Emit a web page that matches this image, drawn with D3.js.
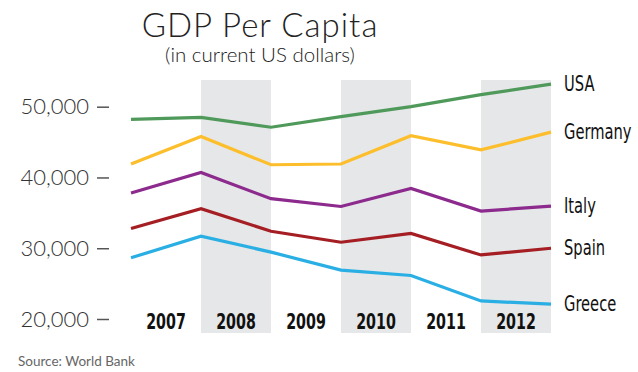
<!DOCTYPE html>
<html lang="en">
<head>
<meta charset="utf-8">
<title>GDP Per Capita</title>
<script src="https://d3js.org/d3.v7.min.js"></script>
<style>
  body { margin: 0; background: #fff; }
  svg { display: block; }
</style>
</head>
<body>
<div id="chart"></div>
<script>
// years shown as column labels, shaded columns
const years = ["2007", "2008", "2009", "2010", "2011", "2012"];
const shadedYears = ["2008", "2010", "2012"];
const yTicks = [20000, 30000, 40000, 50000];

// values read at the column edges (7 points per country)
const countries = ["USA", "Germany", "Italy", "Spain", "Greece"];
const usa     = [48200, 48500, 47100, 48600, 50000, 51700, 53200];
const germany = [41900, 45800, 41800, 41900, 45900, 43900, 46400];
const italy   = [37800, 40700, 37000, 35900, 38450, 35250, 35950];
const spain   = [32800, 35600, 32400, 30850, 32100, 29050, 30000];
const greece  = [28650, 31700, 29450, 26900, 26150, 22550, 22100];
const colors  = ["#4f9a5b", "#fdbe2c", "#8c2a8e", "#a41e23", "#2aafe4"];

const series = [usa, germany, italy, spain, greece];

const width = 638, height = 372;
const narrow = "'Liberation Sans Narrow', 'DejaVu Sans Condensed', sans-serif";
const light = "Lato, 'Open Sans', sans-serif";

const svg = d3.select("#chart")
    .append("svg")
    .attr("width", width)
    .attr("height", height);

// scales
const xBand = d3.scaleBand().domain(years).range([131, 551]);
const x = d3.scaleLinear().domain([0, 6]).range([131, 551]);
const y = d3.scaleLinear().domain([20000, 50000]).range([319, 106.7]);

// grey columns
svg.selectAll(".band")
    .data(shadedYears)
    .join("rect")
    .attr("class", "band")
    .attr("x", d => xBand(d))
    .attr("y", 80)
    .attr("width", xBand.bandwidth())
    .attr("height", 253)
    .attr("fill", "#e6e7e8");

// title
svg.append("text")
    .attr("x", 260).attr("y", 37)
    .attr("text-anchor", "middle")
    .style("font-family", light)
    .style("font-weight", 300)
    .style("font-size", "33px")
    .style("letter-spacing", "1px")
    .attr("fill", "#222")
    .text("GDP Per Capita");

svg.append("text")
    .attr("x", 260).attr("y", 62)
    .attr("text-anchor", "middle")
    .style("font-family", light)
    .style("font-weight", 300)
    .style("font-size", "20.5px")
    .attr("fill", "#222")
    .text("(in current US dollars)");

// y axis
const yAxis = d3.axisLeft(y)
    .tickValues(yTicks)
    .tickSize(12)
    .tickPadding(8)
    .tickFormat(d3.format(","));

const gy = svg.append("g")
    .attr("transform", "translate(109,0)")
    .call(yAxis);
gy.select(".domain").remove();
gy.selectAll("line").attr("stroke", "#555").attr("stroke-width", 1.5);
gy.selectAll("text")
    .style("font-family", light)
    .style("font-weight", 300)
    .style("font-size", "22px")
    .attr("fill", "#333");

// x axis (year labels)
const xAxis = d3.axisBottom(xBand).tickSize(0).tickPadding(0);
const gx = svg.append("g")
    .attr("transform", "translate(0,329)")
    .call(xAxis);
gx.select(".domain").remove();
gx.selectAll("text")
    .attr("y", 0).attr("dy", 0)
    .attr("transform", "scale(0.72,1)")
    .style("font-family", narrow)
    .style("font-weight", "bold")
    .style("font-size", "22px")
    .attr("fill", "#111");

// lines
const line = d3.line()
    .x((d, i) => x(i))
    .y(d => y(d));

svg.selectAll(".country")
    .data(series)
    .join("path")
    .attr("class", "country")
    .attr("d", line)
    .attr("fill", "none")
    .attr("stroke", (d, i) => colors[i])
    .attr("stroke-width", 3.2);

// labels at line ends
svg.selectAll(".label")
    .data(series)
    .join("text")
    .attr("class", "label")
    .attr("transform", d => `translate(${x(6) + 13},${y(d[d.length - 1]) + 7}) scale(0.76,1)`)
    .style("font-family", narrow)
    .style("font-size", "21.5px")
    .attr("fill", "#111")
    .text((d, i) => countries[i]);

// source
svg.append("text")
    .attr("x", 18).attr("y", 366)
    .style("font-family", light)
    .style("font-size", "13.5px")
    .attr("fill", "#666")
    .text("Source: World Bank");
</script>
</body>
</html>
